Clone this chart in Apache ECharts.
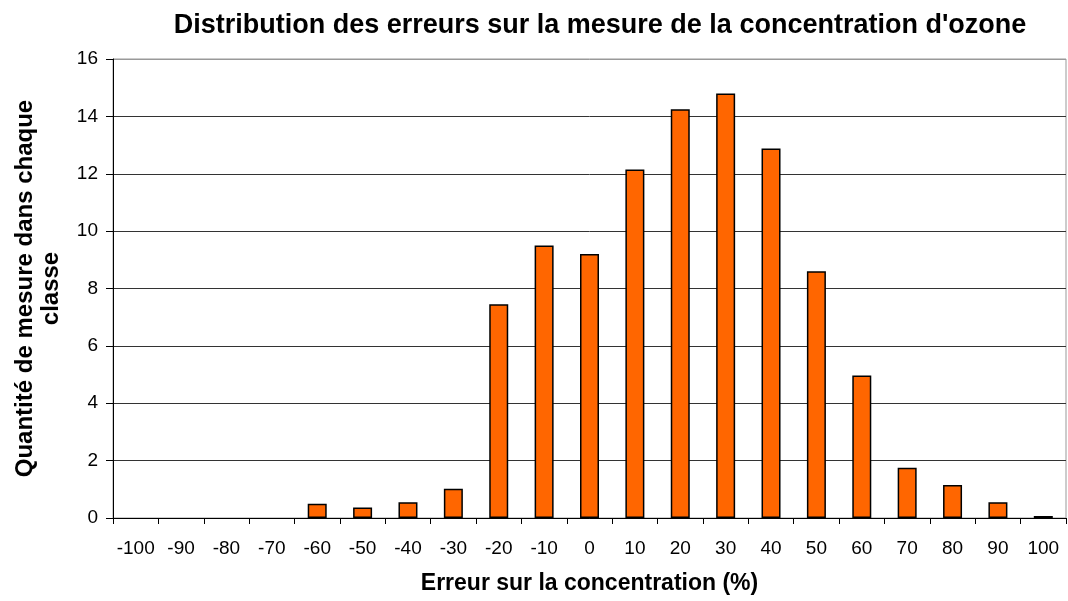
<!DOCTYPE html>
<html>
<head>
<meta charset="utf-8">
<script src="https://cdn.jsdelivr.net/npm/echarts@6/dist/echarts.min.js"></script>
<style>html,body{margin:0;padding:0;background:#fff}#c{width:1068px;height:601px}</style>
</head>
<body>
<div id="c"></div>
<script>
const categories = ['-100','-90','-80','-70','-60','-50','-40','-30','-20','-10','0','10','20','30','40','50','60','70','80','90','100'];
const counts = [0,0,0,0,0.5,0.37,0.55,1.02,7.45,9.5,9.2,12.15,14.25,14.8,12.88,8.6,4.97,1.75,1.15,0.55,0.07];
const yTicks = {min:0, max:16, interval:2};

const chart = echarts.init(document.getElementById('c'), null, {renderer:'canvas'});
const font = 'Liberation Sans, Arial, sans-serif';
chart.setOption({
  animation:false,
  backgroundColor:'#fff',
  title:{
    text:"Distribution des erreurs sur la mesure de la concentration d'ozone",
    left:595, top:7, textAlign:'center',
    textStyle:{fontFamily:font, fontWeight:'bold', fontSize:27, color:'#000'}
  },
  grid:{left:113, right:2, top:59, bottom:83, show:true, borderColor:'#999', borderWidth:1, backgroundColor:'transparent'},
  xAxis:{
    type:'category', data:categories,
    name:'Erreur sur la concentration (%)', nameLocation:'middle', nameGap:54,
    nameTextStyle:{fontFamily:font, fontWeight:'bold', fontSize:23, color:'#000'},
    axisLine:{lineStyle:{color:'#000', width:1}},
    axisTick:{show:true, alignWithLabel:false, length:6, lineStyle:{color:'#000'}},
    axisLabel:{fontFamily:font, fontSize:19, color:'#000', margin:21, interval:0},
    splitLine:{show:false}
  },
  yAxis:{
    type:'value', min:yTicks.min, max:yTicks.max, interval:yTicks.interval,
    name:'Quantité de mesure dans chaque\nclasse', nameLocation:'middle', nameGap:49, nameRotate:90,
    nameTextStyle:{fontFamily:font, fontWeight:'bold', fontSize:24, color:'#000', lineHeight:26},
    axisLine:{show:true, lineStyle:{color:'#000', width:1}},
    axisTick:{show:true, length:7, lineStyle:{color:'#000'}},
    axisLabel:{fontFamily:font, fontSize:19, color:'#000', margin:15},
    splitLine:{show:true, lineStyle:{color:['#000','#333','#333','#333','#333','#333','#333','#333','#999'], width:1}}
  },
  series:[{
    type:'bar', barWidth:19,
    data:counts.map(v => ({value:v, itemStyle:{borderWidth: v === 0 ? 0 : 1.5}})),
    itemStyle:{color:'#FF6600', borderColor:'#000', borderWidth:1.5}
  }]
});
</script>
</body>
</html>
